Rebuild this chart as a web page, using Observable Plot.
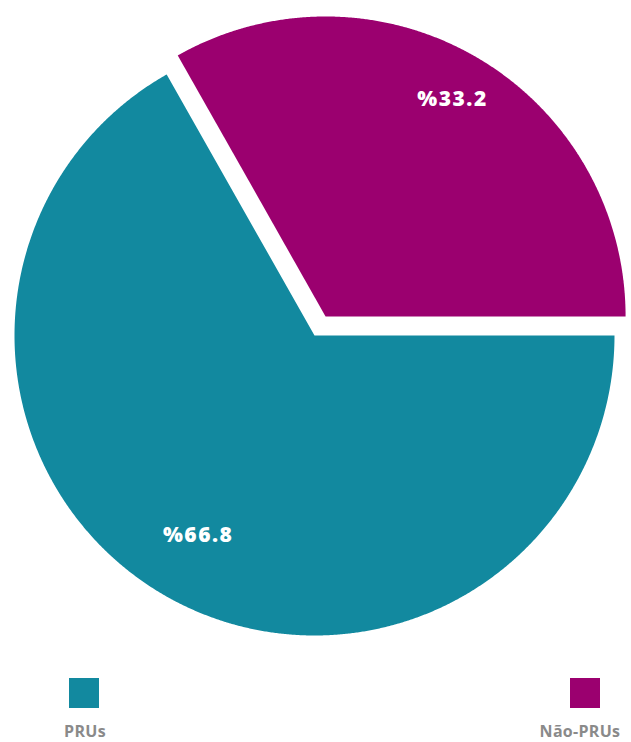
<!DOCTYPE html>
<html><head><meta charset="utf-8">
<script src="https://cdn.jsdelivr.net/npm/d3@7"></script>
<script src="https://cdn.jsdelivr.net/npm/@observablehq/plot@0.6"></script>
<style>
html,body{margin:0;padding:0;background:#fff;}
#wrap{position:relative;width:631px;height:742px;overflow:hidden;font-family:"Open Sans",sans-serif;}
#chart{position:absolute;left:0;top:0;}
.sw{position:absolute;top:678px;width:30px;height:30px;}
.lab{position:absolute;top:721px;width:130px;text-align:center;font-size:16px;font-weight:700;color:#8a8a8a;line-height:20px;letter-spacing:0.3px;}
</style></head><body>
<div id="wrap"><div id="chart"></div></div>
<script>
const categories = ["PRUs", "Não-PRUs"];
const values = [66.8, 33.2];
const labels = ["%66.8", "%33.2"];
const colors = ["#12899f", "#9b006f"];
const exploded = [false, true];

const W = 631, H = 660, R = 300, CX = 314, CY = 335;
const explodeDist = 22 / R;

const pie = d3.pie().sort(null).value(d => d.value)
  .startAngle(Math.PI / 2).endAngle(Math.PI / 2 + 2 * Math.PI);
const rows = categories.map((c, i) => ({key: c, value: values[i], label: labels[i], color: colors[i], exploded: exploded[i]}));
const arcs = pie(rows);

const slices = arcs.map(a => {
  const mid = (a.startAngle + a.endAngle) / 2;
  const ox = a.data.exploded ? explodeDist * Math.sin(mid) : 0;
  const oy = a.data.exploded ? explodeDist * Math.cos(mid) : 0;
  const pts = [{x: ox, y: oy}];
  const n = Math.max(8, Math.ceil((a.endAngle - a.startAngle) / (Math.PI / 720)));
  for (let k = 0; k <= n; k++) {
    const t = a.startAngle + (a.endAngle - a.startAngle) * k / n;
    pts.push({x: ox + Math.sin(t), y: oy + Math.cos(t)});
  }
  const lr = a.data.exploded ? 0.84 : 0.77;
  return {pts, color: a.data.color, label: {x: ox + lr * Math.sin(mid), y: oy + lr * Math.cos(mid), text: a.data.label}};
});

const marks = [];
for (const s of slices) {
  marks.push(Plot.line(s.pts, {x: "x", y: "y", fill: s.color, stroke: "none", curve: "linear-closed"}));
}
marks.push(Plot.text(slices.map(s => s.label), {
  x: "x", y: "y", text: "text", fill: "white", fontSize: 21, fontWeight: 800,
  fontFamily: "Open Sans, sans-serif", textAnchor: "middle"
}));

const plot = Plot.plot({
  width: W, height: H, margin: 0,
  x: {domain: [-CX / R, (W - CX) / R], axis: null},
  y: {domain: [-(H - CY) / R, CY / R], axis: null},
  style: {background: "white"},
  marks
});
plot.querySelectorAll("text").forEach(t => t.setAttribute("letter-spacing", "1.5"));
document.getElementById("chart").appendChild(plot);

// legend
const legendSwatchX = [69, 570];
const legendLabelX = [85, 580];
const wrap = document.getElementById("wrap");
categories.forEach((c, i) => {
  const sw = document.createElement("div");
  sw.className = "sw"; sw.style.left = legendSwatchX[i] + "px"; sw.style.background = colors[i];
  wrap.appendChild(sw);
  const lb = document.createElement("div");
  lb.className = "lab"; lb.style.left = (legendLabelX[i] - 65) + "px"; lb.textContent = c;
  wrap.appendChild(lb);
});
</script>
</body></html>
